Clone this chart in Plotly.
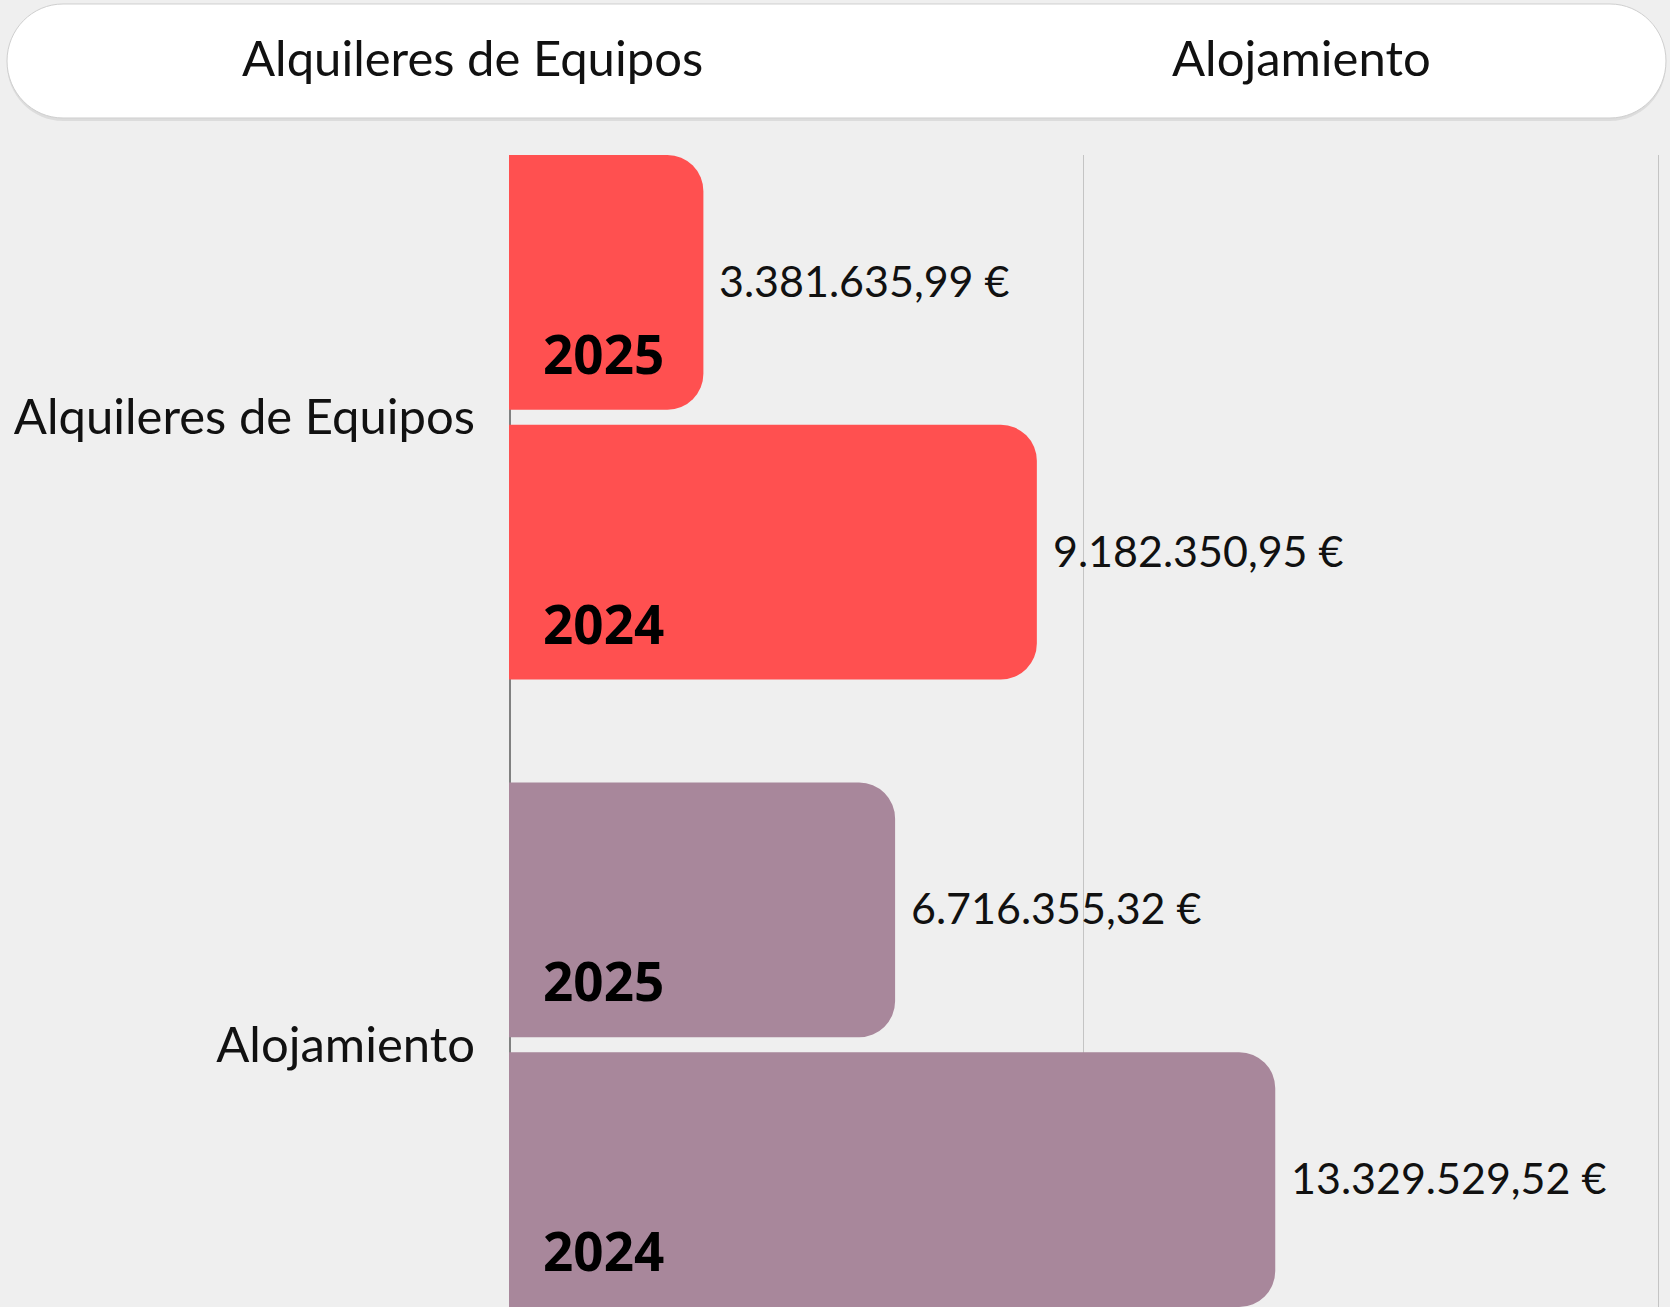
"""Horizontal grouped bar chart: 2025 vs 2024 spend per category."""

import plotly.graph_objects as go

# ── Data ──────────────────────────────────────────────────────────────────────
CATEGORIES = ["Alquileres de Equipos", "Alojamiento"]
YEARS = ["2025", "2024"]
VALUES_2025 = [3381635.99, 6716355.32]
VALUES_2024 = [9182350.95, 13329529.52]
TAB_LABELS = ["Alquileres de Equipos", "Alojamiento"]

# ── Style ─────────────────────────────────────────────────────────────────────
_CATEGORY_COLORS = ["#FF5050", "#A8879B"]
_BG = "#EFEFEF"
_TEXT = "#111111"
_FONT = "Lato, Open Sans, sans-serif"
_YEAR_FONT = "Noto Sans, Open Sans, sans-serif"

_W, _H = 1670, 1307
_M = {"l": 509, "r": 9, "t": 155, "b": 0}
_PLOT_W = _W - _M["l"] - _M["r"]
_PLOT_H = _H - _M["t"] - _M["b"]


def _eur(v: float) -> str:
    """Spanish style currency: 3.381.635,99 €"""
    s = f"{v:,.2f}".replace(",", "X").replace(".", ",").replace("X", ".")
    return f"{s} €"


def _px(x: float, y: float) -> tuple[float, float]:
    """Figure pixel -> paper coordinates."""
    return (x - _M["l"]) / _PLOT_W, (_H - _M["b"] - y) / _PLOT_H


def _pill_path(x0, y0, x1, y1, rx, ry) -> str:
    k = 0.5523
    pts = {
        "a": _px(x0 + rx, y0), "b": _px(x1 - rx, y0),
        "c1": _px(x1 - rx + rx * k, y0), "c2": _px(x1, y0 + ry - ry * k),
        "c": _px(x1, y0 + ry), "d": _px(x1, y1 - ry),
        "d1": _px(x1, y1 - ry + ry * k), "d2": _px(x1 - rx + rx * k, y1),
        "e": _px(x1 - rx, y1), "f": _px(x0 + rx, y1),
        "f1": _px(x0 + rx - rx * k, y1), "f2": _px(x0, y1 - ry + ry * k),
        "g": _px(x0, y1 - ry), "h": _px(x0, y0 + ry),
        "h1": _px(x0, y0 + ry - ry * k), "h2": _px(x0 + rx - rx * k, y0),
    }
    p = {k_: f"{v[0]:.5f},{v[1]:.5f}" for k_, v in pts.items()}
    return (
        f"M{p['a']} L{p['b']} C{p['c1']} {p['c2']} {p['c']} L{p['d']} "
        f"C{p['d1']} {p['d2']} {p['e']} L{p['f']} C{p['f1']} {p['f2']} {p['g']} "
        f"L{p['h']} C{p['h1']} {p['h2']} {p['a']} Z"
    )


fig = go.Figure()
for year, values in zip(YEARS, [VALUES_2025, VALUES_2024]):
    fig.add_trace(
        go.Bar(
            x=values,
            y=CATEGORIES,
            name=year,
            orientation="h",
            marker={"color": _CATEGORY_COLORS, "line": {"width": 0}},
            hovertemplate="%{y} " + year + ": %{x:,.2f} €<extra></extra>",
        )
    )

# bar geometry (px) used to offset labels from the category centre
_slot_half = 135
annotations = []
for i, (year, values) in enumerate(zip(YEARS, [VALUES_2025, VALUES_2024])):
    bar_shift = _slot_half if i == 0 else -_slot_half
    for cat, val in zip(CATEGORIES, values):
        annotations.append(
            {
                "x": 0, "y": cat, "xref": "x", "yref": "y",
                "text": f"<b>{year}</b>", "showarrow": False,
                "xanchor": "left", "yanchor": "middle",
                "xshift": 32, "yshift": bar_shift - 71,
                "font": {"family": _YEAR_FONT, "size": 53, "color": "#000000"},
            }
        )
        annotations.append(
            {
                "x": val, "y": cat, "xref": "x", "yref": "y",
                "text": _eur(val), "showarrow": False,
                "xanchor": "left", "yanchor": "middle",
                "xshift": 14, "yshift": bar_shift + 2,
                "font": {"family": _FONT, "size": 43, "color": _TEXT},
            }
        )

# header pill with tab labels
tab_x = [472, 1301]
for label, cx in zip(TAB_LABELS, tab_x):
    px_, py_ = _px(cx, 57)
    annotations.append(
        {
            "x": px_, "y": py_, "xref": "paper", "yref": "paper",
            "text": label, "showarrow": False,
            "xanchor": "center", "yanchor": "middle",
            "font": {"family": _FONT, "size": 49, "color": _TEXT},
        }
    )

shapes = [
    # axis line at x = 0, kept under the bars
    {
        "type": "line", "xref": "paper", "yref": "paper", "layer": "below",
        "x0": 1 / _PLOT_W, "x1": 1 / _PLOT_W, "y0": 0, "y1": 1,
        "line": {"color": "#808080", "width": 2},
    },
    {
        "type": "path", "xref": "paper", "yref": "paper", "layer": "above",
        "path": _pill_path(7, 6, 1666, 121, 56, 57),
        "fillcolor": "rgba(0,0,0,0.08)", "line": {"width": 0},
    },
    {
        "type": "path", "xref": "paper", "yref": "paper", "layer": "above",
        "path": _pill_path(7, 4, 1666, 118, 56, 57),
        "fillcolor": "#ffffff", "line": {"color": "#cfcfcf", "width": 1},
    },
]

fig.update_layout(
    width=_W,
    height=_H,
    margin=_M,
    barmode="group",
    bargap=0.140,
    bargroupgap=0.056,
    barcornerradius=36,
    paper_bgcolor=_BG,
    plot_bgcolor=_BG,
    showlegend=False,
    font={"family": _FONT, "color": _TEXT},
    annotations=annotations,
    shapes=shapes,
    xaxis={
        "range": [0, 20.04e6],
        "dtick": 10e6,
        "tick0": 0,
        "showticklabels": False,
        "showgrid": True,
        "gridcolor": "#C4C4C4",
        "gridwidth": 1,
        "zeroline": False,
        "fixedrange": True,
    },
    yaxis={
        "range": [1.418, -0.418],
        "showgrid": False,
        "showline": False,
        "ticks": "",
        "ticklabelstandoff": 33,
        "tickfont": {"family": _FONT, "size": 49, "color": _TEXT},
        "fixedrange": True,
    },
)

fig.write_html(
    "out.html",
    config={"displayModeBar": False},
    post_script=(
        "document.body.style.margin='0';"
        f"document.body.style.background='{_BG}';"
    ),
)
